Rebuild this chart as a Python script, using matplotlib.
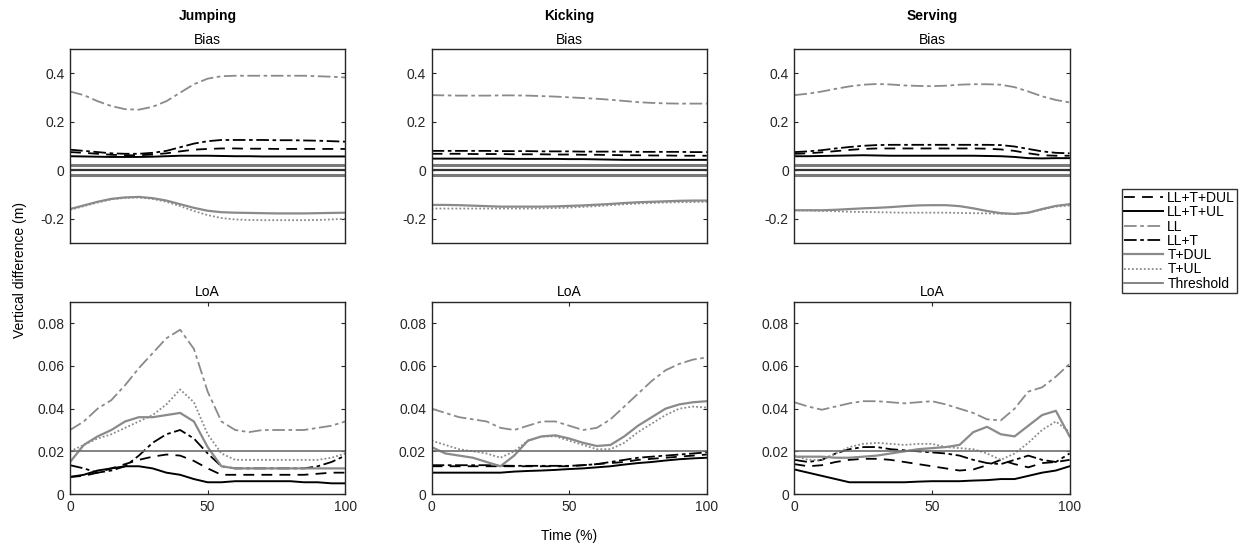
import matplotlib
matplotlib.use("Agg")
import matplotlib.pyplot as plt
import numpy as np

plt.rcParams["font.family"] = ["Liberation Sans", "DejaVu Sans"]

time_pct = list(range(0, 101, 5))
activities = ["Jumping", "Kicking", "Serving"]
series_names = ["LL+T+DUL", "LL+T+UL", "LL", "LL+T", "T+DUL", "T+UL"]
threshold = 0.02

# bias (m), one list per series per activity
bias_jumping = {
    "LL+T+DUL": [0.075, 0.072, 0.068, 0.064, 0.062, 0.062, 0.065, 0.070, 0.078, 0.085, 0.088,
                 0.090, 0.090, 0.089, 0.089, 0.088, 0.088, 0.088, 0.088, 0.088, 0.088],
    "LL+T+UL": [0.058, 0.057, 0.056, 0.055, 0.055, 0.055, 0.056, 0.058, 0.060, 0.060, 0.060,
                0.059, 0.058, 0.058, 0.057, 0.057, 0.057, 0.057, 0.057, 0.057, 0.057],
    "LL": [0.325, 0.310, 0.285, 0.265, 0.252, 0.250, 0.262, 0.285, 0.320, 0.355, 0.378,
           0.388, 0.390, 0.390, 0.390, 0.390, 0.390, 0.390, 0.388, 0.386, 0.383],
    "LL+T": [0.085, 0.080, 0.075, 0.070, 0.068, 0.068, 0.072, 0.080, 0.095, 0.110, 0.120,
             0.125, 0.125, 0.125, 0.125, 0.124, 0.124, 0.123, 0.122, 0.120, 0.118],
    "T+DUL": [-0.160, -0.145, -0.130, -0.118, -0.112, -0.110, -0.115, -0.125, -0.140, -0.155, -0.167,
              -0.173, -0.175, -0.176, -0.177, -0.178, -0.178, -0.178, -0.177, -0.176, -0.175],
    "T+UL": [-0.163, -0.148, -0.133, -0.120, -0.114, -0.112, -0.118, -0.130, -0.148, -0.168, -0.185,
             -0.197, -0.203, -0.205, -0.206, -0.206, -0.206, -0.206, -0.205, -0.203, -0.200],
}
bias_kicking = {
    "LL+T+DUL": [0.068, 0.068, 0.068, 0.067, 0.067, 0.067, 0.066, 0.066, 0.066, 0.065, 0.065,
                 0.064, 0.064, 0.063, 0.062, 0.062, 0.061, 0.061, 0.060, 0.060, 0.060],
    "LL+T+UL": [0.048, 0.048, 0.048, 0.048, 0.048, 0.048, 0.047, 0.047, 0.047, 0.047, 0.046,
                0.046, 0.045, 0.044, 0.043, 0.043, 0.043, 0.043, 0.043, 0.043, 0.043],
    "LL": [0.310, 0.309, 0.308, 0.308, 0.308, 0.309, 0.309, 0.308, 0.306, 0.304, 0.301,
           0.298, 0.295, 0.291, 0.286, 0.281, 0.278, 0.276, 0.275, 0.275, 0.275],
    "LL+T": [0.080, 0.080, 0.080, 0.080, 0.080, 0.079, 0.079, 0.079, 0.078, 0.078, 0.078,
             0.077, 0.077, 0.077, 0.077, 0.076, 0.076, 0.076, 0.076, 0.075, 0.075],
    "T+DUL": [-0.143, -0.143, -0.144, -0.146, -0.148, -0.150, -0.150, -0.150, -0.150, -0.149, -0.147,
              -0.145, -0.142, -0.139, -0.135, -0.132, -0.130, -0.128, -0.126, -0.125, -0.125],
    "T+UL": [-0.158, -0.158, -0.158, -0.158, -0.158, -0.158, -0.158, -0.158, -0.157, -0.156, -0.154,
             -0.151, -0.148, -0.144, -0.140, -0.137, -0.135, -0.133, -0.132, -0.131, -0.130],
}
bias_serving = {
    "LL+T+DUL": [0.068, 0.070, 0.074, 0.079, 0.084, 0.088, 0.090, 0.090, 0.090, 0.090, 0.090,
                 0.090, 0.090, 0.090, 0.089, 0.086, 0.080, 0.070, 0.062, 0.060, 0.060],
    "LL+T+UL": [0.058, 0.058, 0.059, 0.060, 0.061, 0.062, 0.061, 0.060, 0.060, 0.060, 0.060,
                0.060, 0.060, 0.060, 0.059, 0.058, 0.055, 0.050, 0.049, 0.050, 0.050],
    "LL": [0.310, 0.316, 0.325, 0.336, 0.346, 0.353, 0.356, 0.354, 0.350, 0.348, 0.347,
           0.349, 0.353, 0.355, 0.355, 0.353, 0.343, 0.325, 0.305, 0.290, 0.280],
    "LL+T": [0.075, 0.078, 0.083, 0.090, 0.096, 0.101, 0.104, 0.105, 0.105, 0.105, 0.105,
             0.105, 0.105, 0.105, 0.105, 0.104, 0.098, 0.088, 0.078, 0.072, 0.070],
    "T+DUL": [-0.165, -0.165, -0.165, -0.163, -0.160, -0.157, -0.155, -0.152, -0.148, -0.145, -0.144,
              -0.144, -0.148, -0.157, -0.168, -0.177, -0.180, -0.175, -0.160, -0.147, -0.140],
    "T+UL": [-0.165, -0.166, -0.167, -0.169, -0.171, -0.172, -0.173, -0.174, -0.175, -0.175, -0.175,
             -0.175, -0.176, -0.177, -0.178, -0.179, -0.180, -0.175, -0.162, -0.150, -0.145],
}

# limits of agreement (m)
loa_jumping = {
    "LL+T+DUL": [0.0080, 0.0085, 0.0100, 0.0120, 0.0140, 0.0160, 0.0175, 0.0185, 0.0180, 0.0155, 0.0120,
                 0.0090, 0.0090, 0.0090, 0.0090, 0.0090, 0.0090, 0.0090, 0.0095, 0.0100, 0.0100],
    "LL+T+UL": [0.0080, 0.0090, 0.0110, 0.0120, 0.0130, 0.0130, 0.0120, 0.0100, 0.0090, 0.0070, 0.0055,
                0.0055, 0.0060, 0.0060, 0.0060, 0.0060, 0.0060, 0.0055, 0.0055, 0.0050, 0.0050],
    "LL": [0.030, 0.034, 0.040, 0.044, 0.051, 0.059, 0.066, 0.073, 0.077, 0.068, 0.048,
           0.034, 0.030, 0.029, 0.030, 0.030, 0.030, 0.030, 0.031, 0.032, 0.034],
    "LL+T": [0.0135, 0.0120, 0.0100, 0.0110, 0.0130, 0.0180, 0.0240, 0.0280, 0.0300, 0.0260, 0.0190,
             0.0130, 0.0120, 0.0120, 0.0120, 0.0120, 0.0120, 0.0120, 0.0130, 0.0150, 0.0180],
    "T+DUL": [0.015, 0.023, 0.027, 0.030, 0.034, 0.036, 0.036, 0.037, 0.038, 0.034, 0.022,
              0.013, 0.012, 0.012, 0.012, 0.012, 0.012, 0.012, 0.012, 0.012, 0.012],
    "T+UL": [0.020, 0.023, 0.026, 0.028, 0.031, 0.034, 0.037, 0.042, 0.049, 0.043, 0.028,
             0.019, 0.016, 0.016, 0.016, 0.016, 0.016, 0.016, 0.016, 0.017, 0.019],
}
loa_kicking = {
    "LL+T+DUL": [0.0130, 0.0130, 0.0130, 0.0130, 0.0130, 0.0130, 0.0130, 0.0130, 0.0130, 0.0130, 0.0130,
                 0.0135, 0.0140, 0.0145, 0.0150, 0.0160, 0.0165, 0.0170, 0.0175, 0.0180, 0.0185],
    "LL+T+UL": [0.0100, 0.0100, 0.0100, 0.0100, 0.0100, 0.0100, 0.0105, 0.0108, 0.0110, 0.0113, 0.0117,
                0.0120, 0.0125, 0.0130, 0.0138, 0.0145, 0.0150, 0.0157, 0.0163, 0.0167, 0.0170],
    "LL": [0.040, 0.038, 0.036, 0.035, 0.034, 0.031, 0.030, 0.032, 0.034, 0.034, 0.032,
           0.030, 0.031, 0.035, 0.041, 0.047, 0.053, 0.058, 0.061, 0.063, 0.064],
    "LL+T": [0.0135, 0.0135, 0.0135, 0.0135, 0.0135, 0.0133, 0.0132, 0.0132, 0.0132, 0.0132, 0.0132,
             0.0135, 0.0140, 0.0150, 0.0160, 0.0170, 0.0175, 0.0180, 0.0185, 0.0190, 0.0195],
    "T+DUL": [0.022, 0.019, 0.018, 0.017, 0.015, 0.013, 0.018, 0.025, 0.027, 0.0275, 0.026,
              0.024, 0.0225, 0.023, 0.027, 0.032, 0.036, 0.040, 0.042, 0.043, 0.0435],
    "T+UL": [0.025, 0.023, 0.021, 0.020, 0.019, 0.017, 0.020, 0.025, 0.027, 0.027, 0.025,
             0.023, 0.021, 0.021, 0.024, 0.029, 0.033, 0.037, 0.040, 0.041, 0.0405],
}
loa_serving = {
    "LL+T+DUL": [0.0140, 0.0130, 0.0135, 0.0150, 0.0160, 0.0165, 0.0165, 0.0160, 0.0150, 0.0140, 0.0130,
                 0.0120, 0.0110, 0.0115, 0.0135, 0.0160, 0.0140, 0.0125, 0.0145, 0.0150, 0.0160],
    "LL+T+UL": [0.0115, 0.0100, 0.0085, 0.0070, 0.0055, 0.0055, 0.0055, 0.0055, 0.0055, 0.0058, 0.0060,
                0.0060, 0.0060, 0.0063, 0.0065, 0.0070, 0.0070, 0.0085, 0.0100, 0.0110, 0.0130],
    "LL": [0.043, 0.041, 0.0395, 0.041, 0.0425, 0.0435, 0.0435, 0.043, 0.0425, 0.043, 0.0435,
           0.042, 0.040, 0.038, 0.035, 0.0345, 0.040, 0.048, 0.050, 0.055, 0.061],
    "LL+T": [0.0160, 0.0150, 0.0160, 0.0190, 0.0210, 0.0220, 0.0220, 0.0210, 0.0205, 0.0200, 0.0195,
             0.0190, 0.0180, 0.0160, 0.0145, 0.0140, 0.0160, 0.0180, 0.0160, 0.0150, 0.0190],
    "T+DUL": [0.0175, 0.0175, 0.0175, 0.0170, 0.0170, 0.0175, 0.0180, 0.0190, 0.0200, 0.0210, 0.0215,
              0.0220, 0.0230, 0.0290, 0.0315, 0.0280, 0.0270, 0.0320, 0.0370, 0.0390, 0.0270],
    "T+UL": [0.0180, 0.0160, 0.0160, 0.0190, 0.0220, 0.0235, 0.0240, 0.0235, 0.0230, 0.0235, 0.0235,
             0.0220, 0.0215, 0.0210, 0.0190, 0.0160, 0.0190, 0.0240, 0.0300, 0.0340, 0.0290],
}

bias_all = [bias_jumping, bias_kicking, bias_serving]
loa_all = [loa_jumping, loa_kicking, loa_serving]

GRAY = "#8a8a8a"
styles = {
    "LL+T+DUL": dict(color="black", linestyle=(0, (6, 4)), linewidth=1.3),
    "LL+T+UL": dict(color="black", linestyle="-", linewidth=1.4),
    "LL": dict(color=GRAY, linestyle=(0, (7, 2, 2, 2)), linewidth=1.3),
    "LL+T": dict(color="black", linestyle=(0, (7, 2, 2, 2)), linewidth=1.3),
    "T+DUL": dict(color=GRAY, linestyle="-", linewidth=1.6),
    "T+UL": dict(color=GRAY, linestyle=(0, (1, 1.2)), linewidth=1.3),
}
thr_style = dict(color="#6e6e6e", linestyle="-", linewidth=1.2)

fig = plt.figure(figsize=(12.51, 5.54), dpi=100)
lefts = [0.056, 0.345, 0.635]
width = 0.22

for i, act in enumerate(activities):
    ax_b = fig.add_axes([lefts[i], 0.5614, width, 0.350])
    ax_l = fig.add_axes([lefts[i], 0.1083, width, 0.3466])

    # bias: threshold band and zero line
    ax_b.axhline(threshold, color="#7a7a7a", linewidth=2.2)
    ax_b.axhline(-threshold, color="#7a7a7a", linewidth=2.2)
    ax_b.axhline(0, color="#333333", linewidth=1.6)
    for name in series_names:
        ax_b.plot(time_pct, bias_all[i][name], **styles[name])
    ax_b.set_xlim(0, 100)
    ax_b.set_ylim(-0.3, 0.5)
    ax_b.set_yticks([-0.2, 0, 0.2, 0.4])
    ax_b.set_yticklabels(["-0.2", "0", "0.2", "0.4"])
    ax_b.set_xticks([])
    ax_b.set_title("Bias", fontsize=10, pad=4)

    lines = []
    for name in series_names:
        (ln,) = ax_l.plot(time_pct, loa_all[i][name], label=name, **styles[name])
        lines.append(ln)
    thr = ax_l.axhline(threshold, label="Threshold", **thr_style)
    lines.append(thr)
    ax_l.set_xlim(0, 100)
    ax_l.set_ylim(0, 0.09)
    ax_l.set_yticks([0, 0.02, 0.04, 0.06, 0.08])
    ax_l.set_yticklabels(["0", "0.02", "0.04", "0.06", "0.08"])
    ax_l.set_xticks([0, 50, 100])
    ax_l.set_title("LoA", fontsize=10, pad=4)

    for ax in (ax_b, ax_l):
        ax.tick_params(direction="in", top=True, right=True, labelsize=10, length=3,
                       colors="#262626", pad=4)
        for sp in ax.spines.values():
            sp.set_color("#262626")
            sp.set_linewidth(1.0)

    fig.text(lefts[i] + width / 2, 0.972, act, ha="center", va="center",
             fontsize=10, fontweight="bold")

fig.text(0.016, 0.513, "Vertical difference (m)", rotation=90, ha="center", va="center", fontsize=10)
fig.text(0.455, 0.033, "Time (%)", ha="center", va="center", fontsize=10)

leg = fig.legend(handles=lines, loc="upper left", bbox_to_anchor=(0.897, 0.659),
                 fontsize=10, frameon=True, fancybox=False, handlelength=2.8,
                 handletextpad=0.3, borderpad=0.15, labelspacing=0.02, borderaxespad=0)
leg.get_frame().set_edgecolor("black")
leg.get_frame().set_linewidth(1.0)

fig.savefig("out.png", dpi=100)
